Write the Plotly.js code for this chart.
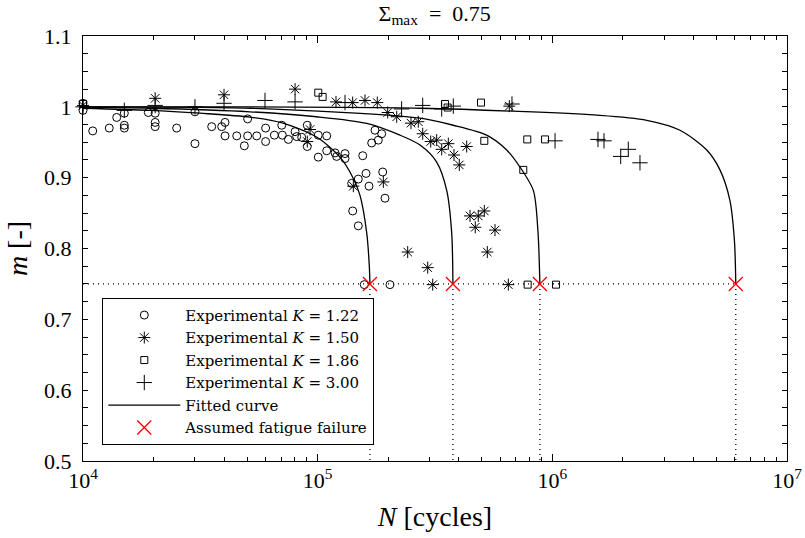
<!DOCTYPE html>
<html>
<head>
<meta charset="utf-8">
<script src="https://cdn.plot.ly/plotly-3.0.1.min.js"></script>
<style>html,body{margin:0;padding:0;background:#fff;}#chart{width:805px;height:538px;}</style>
</head>
<body>
<div id="chart"></div>
<script>
// ---- Experimental data (N cycles, m) ----
const k122_N = [1.0e4,1.0e4,1.10e4,1.294e4,1.392e4,1.50e4,1.50e4,1.50e4,1.898e4,2.03e4,2.03e4,2.03e4,2.507e4,3.0e4,3.0e4,3.535e4,3.90e4,4.03e4,4.03e4,4.52e4,4.87e4,5.03e4,5.03e4,5.50e4,6.0e4,6.0e4,6.54e4,7.03e4,7.07e4,7.50e4,8.01e4,8.14e4,8.55e4,9.03e4,9.03e4,1.006e5,1.006e5,1.093e5,1.093e5,1.186e5,1.205e5,1.308e5,1.308e5,1.556e5,1.755e5,1.874e5,1.699e5,1.813e5,1.396e5,1.49e5,1.607e5,1.655e5,1.893e5,1.936e5,1.41e5,1.49e5,1.58e5,2.033e5];
const k122_m = [1.005,0.995,0.966,0.970,0.985,0.991,0.974,0.970,0.992,0.991,0.978,0.972,0.970,0.993,0.948,0.972,0.972,0.978,0.959,0.959,0.945,0.983,0.959,0.959,0.970,0.951,0.960,0.974,0.960,0.954,0.965,0.958,0.957,0.974,0.944,0.960,0.929,0.959,0.938,0.935,0.930,0.934,0.927,0.931,0.967,0.962,0.949,0.953,0.892,0.898,0.906,0.888,0.908,0.871,0.853,0.832,0.749,0.749];

const k150_N = [1.0e4,2.03e4,3.99e4,8.01e4,1.197e5,1.41e5,1.591e5,1.795e5,1.988e5,2.172e5,2.498e5,2.684e5,2.803e5,9.28e4,9.03e4,1.419e5,1.905e5,3.032e5,3.215e5,3.377e5,3.604e5,3.81e5,4.014e5,4.316e5,6.556e5,4.458e5,4.835e5,5.13e5,4.695e5,5.697e5,5.283e5,2.419e5,2.944e5,3.092e5,6.493e5];
const k150_m = [1.002,1.012,1.017,1.025,1.007,1.006,1.009,1.006,0.992,0.986,0.977,0.979,0.962,0.968,0.951,0.888,0.894,0.951,0.953,0.940,0.948,0.932,0.918,0.944,1.001,0.846,0.846,0.853,0.830,0.826,0.795,0.795,0.773,0.749,0.749];

const k186_N = [1.0e4,1.006e5,1.05e5,3.487e5,3.58e5,4.966e5,5.13e5,7.82e5,9.31e5,7.52e5,7.85e5,1.037e6];
const k186_m = [1.004,1.020,1.014,1.004,0.999,1.006,0.952,0.954,0.954,0.911,0.749,0.749];

const k300_N = [1.0e4,1.5e4,2.03e4,3.0e4,3.99e4,5.965e4,8.01e4,1.308e5,2.279e5,2.803e5,3.377e5,3.784e5,6.73e5,1.027e6,1.565e6,1.66e6,1.956e6,2.107e6,2.363e6];
const k300_m = [1.000,0.995,1.002,1.000,1.005,1.009,1.007,1.006,0.997,1.002,0.997,1.001,1.004,0.952,0.954,0.952,0.930,0.940,0.921];

// ---- Fitted curves ----
const fit122_N = [1.0e4,1.93e4,3.15e4,5.15e4,7.12e4,9.93e4,1.245e5,1.414e5,1.515e5,1.618e5,1.66e5,1.67e5];
const fit122_m = [0.998,0.995,0.991,0.9855,0.977,0.957,0.929,0.900,0.875,0.822,0.775,0.750];
const fit150_N = [1.0e4,1.93e4,5.15e4,9.9e4,1.618e5,2.243e5,2.73e5,3.215e5,3.547e5,3.725e5,3.77e5];
const fit150_m = [0.9995,0.998,0.993,0.986,0.9766,0.960,0.946,0.922,0.882,0.822,0.750];
const fit186_N = [1.0e4,5.15e4,2.73e5,3.78e5,5.25e5,6.39e5,7.28e5,8.3e5,8.68e5,8.85e5];
const fit186_m = [1.000,0.998,0.984,0.974,0.960,0.939,0.915,0.882,0.825,0.750];
const fit300_N = [1.0e4,2.73e5,1.596e6,2.525e6,3.5e6,4.55e6,5.18e6,5.71e6,5.97e6,6.05e6];
const fit300_m = [1.000,0.998,0.988,0.981,0.967,0.939,0.911,0.868,0.811,0.750];

// ---- Assumed fatigue failure ----
const failN = [1.67e5, 3.77e5, 8.85e5, 6.05e6];
const failM = 0.75;

const xTickVals = [1e4, 1e5, 1e6, 1e7];
const xTickText = ['10<sup>4</sup>','10<sup>5</sup>','10<sup>6</sup>','10<sup>7</sup>'];
const yTickVals = [0.5,0.6,0.7,0.8,0.9,1.0,1.1];
const yTickText = ['0.5','0.6','0.7','0.8','0.9','1','1.1'];

const FONT = '"Liberation Serif", "Times New Roman", Times, "DejaVu Serif", serif';
const LFONT = '"DejaVu Serif", "Liberation Serif", serif';
const black = '#000';
const SP = '\u2002';

const traces = [];
function mk(name, N, m, symbol, size){
  return {type:'scatter', mode:'markers', name:name, x:N, y:m, cliponaxis:false,
    marker:{symbol:symbol, size:size, color:black, line:{color:black, width:1}}};
}
traces.push(mk('Experimental <i>K</i> = 1.22', k122_N, k122_m, 'circle-open', 8));
traces.push(mk('Experimental <i>K</i> = 1.50', k150_N, k150_m, 'asterisk-open', 10));
traces.push(mk('Experimental <i>K</i> = 1.86', k186_N, k186_m, 'square-open', 7));
traces.push(mk('Experimental <i>K</i> = 3.00', k300_N, k300_m, 'cross-thin-open', 11));

// dotted guide lines
const dotX = [xTickVals[0], failN[failN.length-1], null];
const dotY = [failM, failM, null];
failN.forEach(n => { dotX.push(n, n, null); dotY.push(failM, 0.5, null); });
traces.push({type:'scatter', mode:'lines', x:dotX, y:dotY, showlegend:false, hoverinfo:'skip',
  line:{color:black, width:1.3, dash:'1px,4px'}});

const fits = [[fit122_N,fit122_m],[fit150_N,fit150_m],[fit186_N,fit186_m],[fit300_N,fit300_m]];
fits.forEach((f,i) => {
  traces.push({type:'scatter', mode:'lines', x:f[0], y:f[1], name:'Fitted curve',
    showlegend: i===0, legendgroup:'fit', line:{color:black, width:1.3, shape:'spline', smoothing:0.8}});
});

traces.push({type:'scatter', mode:'markers', name:'Assumed fatigue failure', x:failN, y:failN.map(()=>failM),
  cliponaxis:false, marker:{symbol:'x-thin-open', size:14, color:'red', line:{color:'red', width:1.3}}});

const layout = {
  width:805, height:538,
  margin:{l:83, r:18, t:36, b:77},
  paper_bgcolor:'#fff', plot_bgcolor:'#fff',
  font:{family:FONT, color:black, size:20},
  title:{text:'Σ<sub>max</sub>'+SP+'='+SP+'0.75', x:0.54, xanchor:'center', y:0.99, yanchor:'top', font:{family:FONT, size:22, color:black}},
  showlegend:true,
  legend:{x:0.0274, y:0.384, xanchor:'left', yanchor:'top', bgcolor:'#fff', bordercolor:black, borderwidth:1,
    font:{family:LFONT, size:15, color:black}, tracegroupgap:0, itemwidth:72},
  xaxis:{type:'log', range:[4,7], tickvals:xTickVals, ticktext:xTickText, ticks:'inside', ticklen:7,
    tickcolor:black, showline:true, linecolor:black, linewidth:1, mirror:'ticks', showgrid:false, zeroline:false,
    tickfont:{family:FONT, size:22, color:black},
    minor:{ticks:'inside', ticklen:4, tickcolor:black, dtick:'D1', showgrid:false},
    title:{text:'<i>N</i> [cycles]', font:{family:FONT, size:28, color:black}, standoff:13}},
  yaxis:{range:[0.5,1.1], tickvals:yTickVals, ticktext:yTickText, ticks:'inside', ticklen:5,
    tickcolor:black, showline:true, linecolor:black, linewidth:1, mirror:'ticks', showgrid:false, zeroline:false,
    tickfont:{family:FONT, size:22, color:black}, ticklabelstandoff:6,
    minor:{ticks:'inside', ticklen:5, tickcolor:black, dtick:0.025, showgrid:false},
    title:{text:'<i>m</i> [-]', font:{family:FONT, size:28, color:black}, standoff:8}}
};

Plotly.newPlot('chart', traces, layout, {staticPlot:true, displayModeBar:false});
</script>
</body>
</html>
